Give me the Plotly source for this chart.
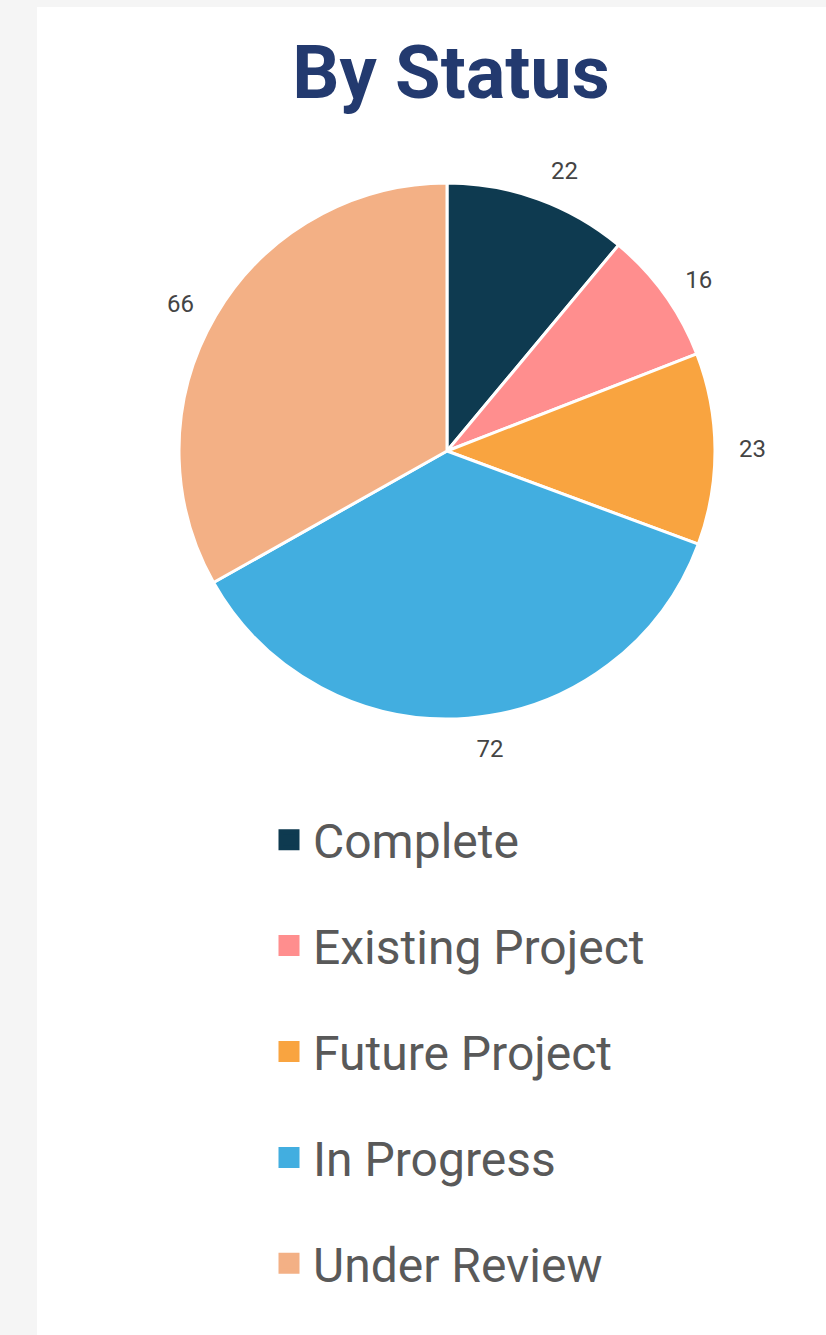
import plotly.graph_objs as go

# status breakdown
statuses = ['Complete', 'Existing Project', 'Future Project', 'In Progress', 'Under Review']
counts = [22, 16, 23, 72, 66]
colors = ['#0e3a50', '#ff8e8e', '#f9a440', '#42aee0', '#f3b085']

W, H = 826, 1335
ML, MT = 37, 7
PW, PH = W - ML, H - MT
CX, CY, R = 447, 451, 268


def px_x(x):
    return (x - ML) / PW


def px_y(y):
    return 1 - (y - MT) / PH


def domain(r):
    return dict(x=[px_x(CX - r), px_x(CX + r)], y=[px_y(CY + r), px_y(CY - r)])


pie = go.Pie(
    labels=statuses,
    values=counts,
    marker=dict(colors=colors, line=dict(color='white', width=3)),
    sort=False,
    direction='clockwise',
    textinfo='none',
    showlegend=False,
    hoverinfo='label+value+percent',
    domain=domain(R),
)

# transparent, slightly bigger pie just to push value labels further out
label_pie = go.Pie(
    labels=statuses,
    values=counts,
    marker=dict(colors=['rgba(0,0,0,0)'] * len(statuses), line=dict(width=0)),
    sort=False,
    direction='clockwise',
    textinfo='value',
    textposition='outside',
    textfont=dict(family='Roboto', size=24, color='#444444'),
    showlegend=False,
    hoverinfo='skip',
    domain=domain(R + 17),
)

# legend entries (big squares with wide spacing)
legend_traces = []
for name, col in zip(statuses, colors):
    legend_traces.append(go.Scatter(
        x=[None], y=[None], mode='markers', name=name, legendgroup=name,
        marker=dict(symbol='square', size=16, color=col, line=dict(color=col, width=5)),
        hoverinfo='skip',
    ))

fig = go.Figure([label_pie, pie] + legend_traces)

fig.update_layout(
    width=W, height=H,
    margin=dict(l=ML, r=0, t=MT, b=0),
    paper_bgcolor='#f5f5f5',
    plot_bgcolor='white',
    font=dict(family='Roboto'),
    title=dict(
        text='<b>By Status</b>',
        font=dict(family='Roboto', size=74, color='#233a6f'),
        x=px_x(451), xanchor='center', xref='paper',
        y=1 - 72 / H, yanchor='middle', yref='container',
    ),
    xaxis=dict(visible=False),
    yaxis=dict(visible=False),
    legend=dict(
        x=px_x(265), xanchor='left',
        y=px_y(802), yanchor='top',
        traceorder='grouped', tracegroupgap=40.5,
        itemwidth=38,
        font=dict(family='Roboto', size=48, color='#595959'),
        bgcolor='rgba(0,0,0,0)',
        itemsizing='trace',
    ),
)

fig.write_html('out.html', config={'displayModeBar': False},
               post_script="document.body.style.margin='0';")
